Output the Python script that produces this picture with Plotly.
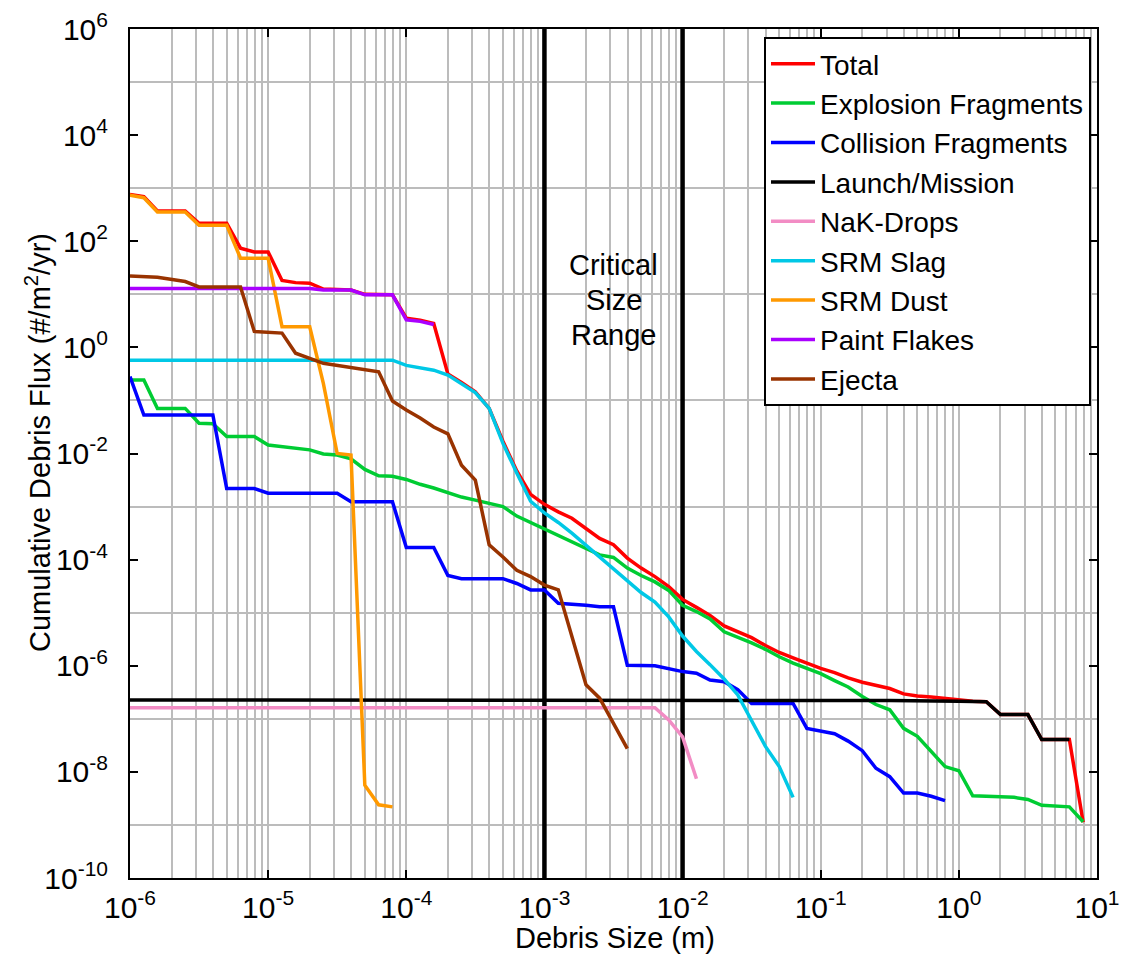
import plotly.graph_objects as go

# ---------------- data (debris size in m, cumulative flux in #/m^2/yr) ----------------
total_size = [1.0e-6, 1.26e-6, 1.58e-6, 2.51e-6, 3.16e-6, 5.01e-6, 6.31e-6, 7.94e-6, 1.0e-5,
              1.26e-5, 1.58e-5, 2.0e-5, 2.51e-5, 3.98e-5, 5.01e-5, 7.94e-5, 1.0e-4, 1.26e-4,
              1.58e-4, 2.0e-4, 2.51e-4, 3.16e-4, 3.98e-4, 5.01e-4, 6.31e-4, 7.94e-4, 1.0e-3,
              1.26e-3, 1.58e-3, 2.0e-3, 2.51e-3, 3.16e-3, 3.98e-3, 5.01e-3, 6.31e-3, 7.94e-3,
              1.0e-2, 1.26e-2, 1.58e-2, 2.0e-2, 2.51e-2, 3.16e-2, 3.98e-2, 5.01e-2, 6.31e-2,
              7.94e-2, 0.1, 0.126, 0.158, 0.2, 0.251, 0.316, 0.398, 0.501, 0.631, 0.794, 1.0,
              1.26, 1.58, 2.0, 3.16, 3.98, 6.31, 7.94]
total_flux = [760, 690, 372, 372, 219, 219, 74, 63, 63,
              18.2, 16.6, 16.2, 12.6, 12.0, 10.0, 9.8, 3.55, 3.24,
              2.82, 0.316, 0.219, 0.145, 0.0708, 0.017, 4.68e-3, 1.70e-3, 1.10e-3,
              7.94e-4, 6.03e-4, 3.80e-4, 2.51e-4, 1.91e-4, 1.07e-4, 6.92e-5, 4.79e-5, 3.09e-5,
              1.78e-5, 1.26e-5, 8.91e-6, 5.62e-6, 4.37e-6, 3.39e-6, 2.40e-6, 1.78e-6, 1.41e-6,
              1.12e-6, 8.91e-7, 7.41e-7, 5.89e-7, 4.90e-7, 4.27e-7, 3.72e-7, 2.95e-7, 2.69e-7,
              2.57e-7, 2.40e-7, 2.24e-7, 2.14e-7, 2.09e-7, 1.20e-7, 1.20e-7, 4.07e-8, 4.07e-8,
              1.12e-9]

explosion_size = [1.0e-6, 1.26e-6, 1.58e-6, 2.51e-6, 3.16e-6, 3.98e-6, 5.01e-6, 7.94e-6, 1.0e-5,
                  1.58e-5, 2.0e-5, 2.51e-5, 3.16e-5, 3.98e-5, 5.01e-5, 6.31e-5, 7.94e-5, 1.0e-4,
                  1.26e-4, 1.58e-4, 2.0e-4, 2.51e-4, 3.16e-4, 3.98e-4, 5.01e-4, 6.31e-4, 7.94e-4,
                  1.0e-3, 1.26e-3, 1.58e-3, 2.0e-3, 2.51e-3, 3.16e-3, 3.98e-3, 5.01e-3, 6.31e-3,
                  7.94e-3, 1.0e-2, 1.26e-2, 1.58e-2, 2.0e-2, 2.51e-2, 3.16e-2, 3.98e-2, 5.01e-2,
                  6.31e-2, 7.94e-2, 0.1, 0.126, 0.158, 0.2, 0.251, 0.316, 0.398, 0.501, 0.631,
                  0.794, 1.0, 1.26, 2.0, 2.51, 3.16, 3.98, 6.31, 7.94]
explosion_flux = [0.243, 0.243, 0.0708, 0.0708, 0.0372, 0.0363, 0.0209, 0.0209, 0.0145,
                  0.0126, 0.0117, 9.77e-3, 9.33e-3, 7.94e-3, 5.01e-3, 3.80e-3, 3.72e-3, 3.24e-3,
                  2.63e-3, 2.24e-3, 1.82e-3, 1.51e-3, 1.32e-3, 1.15e-3, 1.0e-3, 6.61e-4, 5.01e-4,
                  3.80e-4, 2.82e-4, 2.14e-4, 1.58e-4, 1.23e-4, 1.10e-4, 6.92e-5, 5.01e-5, 3.80e-5,
                  2.63e-5, 1.38e-5, 1.05e-5, 7.59e-6, 4.37e-6, 3.47e-6, 2.69e-6, 2.04e-6, 1.48e-6,
                  1.12e-6, 8.91e-7, 7.08e-7, 5.25e-7, 3.98e-7, 2.63e-7, 1.86e-7, 1.48e-7, 6.61e-8,
                  4.68e-8, 2.40e-8, 1.26e-8, 1.05e-8, 3.55e-9, 3.39e-9, 3.31e-9, 3.02e-9, 2.34e-9,
                  2.19e-9, 1.15e-9]

collision_size = [1.0e-6, 1.26e-6, 3.98e-6, 5.01e-6, 7.94e-6, 1.0e-5, 3.16e-5, 3.98e-5, 7.94e-5,
                  1.0e-4, 1.58e-4, 2.0e-4, 2.51e-4, 5.01e-4, 6.31e-4, 7.94e-4, 1.0e-3, 1.26e-3,
                  2.0e-3, 2.51e-3, 3.16e-3, 3.98e-3, 6.31e-3, 7.94e-3, 1.0e-2, 1.26e-2, 1.58e-2,
                  2.0e-2, 2.51e-2, 3.16e-2, 6.31e-2, 7.94e-2, 0.1, 0.126, 0.158, 0.2, 0.251,
                  0.316, 0.398, 0.501, 0.631, 0.794]
collision_flux = [0.282, 0.0531, 0.0531, 2.19e-3, 2.19e-3, 1.78e-3, 1.78e-3, 1.23e-3, 1.23e-3,
                  1.70e-4, 1.70e-4, 5.01e-5, 4.37e-5, 4.37e-5, 3.55e-5, 2.69e-5, 2.69e-5, 1.51e-5,
                  1.38e-5, 1.29e-5, 1.29e-5, 1.02e-6, 1.0e-6, 8.91e-7, 7.76e-7, 7.24e-7, 5.37e-7,
                  5.01e-7, 3.55e-7, 1.95e-7, 1.95e-7, 6.61e-8, 5.89e-8, 5.25e-8, 3.80e-8, 2.51e-8,
                  1.17e-8, 8.13e-9, 3.98e-9, 3.98e-9, 3.47e-9, 2.88e-9]

launch_size = [1.0e-6, 0.1, 0.316, 1.0, 1.58, 2.0, 3.16, 3.98, 6.31]
launch_flux = [2.26e-7, 2.26e-7, 2.21e-7, 2.14e-7, 2.09e-7, 1.20e-7, 1.20e-7, 4.07e-8, 4.07e-8]

nak_size = [1.0e-6, 6.31e-3, 7.94e-3, 1.0e-2, 1.26e-2]
nak_flux = [1.62e-7, 1.62e-7, 9.55e-8, 4.57e-8, 7.41e-9]

slag_size = [1.0e-6, 7.94e-5, 1.0e-4, 1.26e-4, 1.58e-4, 2.0e-4, 2.51e-4, 3.16e-4, 3.98e-4,
             5.01e-4, 6.31e-4, 7.94e-4, 1.0e-3, 1.26e-3, 1.58e-3, 2.0e-3, 2.51e-3, 3.16e-3,
             3.98e-3, 5.01e-3, 6.31e-3, 7.94e-3, 1.0e-2, 1.26e-2, 1.58e-2, 2.0e-2, 2.51e-2,
             3.16e-2, 3.98e-2, 5.01e-2, 6.31e-2]
slag_flux = [0.575, 0.575, 0.457, 0.417, 0.372, 0.302, 0.209, 0.141, 0.0708,
             0.0155, 4.27e-3, 1.26e-3, 7.59e-4, 5.01e-4, 3.16e-4, 1.86e-4, 1.12e-4, 6.76e-5,
             3.98e-5, 2.40e-5, 1.58e-5, 8.32e-6, 3.63e-6, 1.86e-6, 1.05e-6, 5.62e-7, 2.82e-7,
             8.91e-8, 3.02e-8, 1.26e-8, 3.31e-9]

dust_size = [1.0e-6, 1.26e-6, 1.58e-6, 2.51e-6, 3.16e-6, 5.01e-6, 6.31e-6, 1.0e-5, 1.26e-5,
             2.0e-5, 2.51e-5, 3.16e-5, 3.98e-5, 5.01e-5, 6.31e-5, 7.94e-5]
dust_flux = [741, 661, 355, 355, 200, 200, 47.9, 47.9, 2.45,
             2.45, 0.209, 0.0100, 9.33e-3, 5.62e-9, 2.40e-9, 2.19e-9]

paint_size = [1.0e-6, 2.0e-5, 2.51e-5, 3.98e-5, 5.01e-5, 7.94e-5, 1.0e-4, 1.26e-4, 1.58e-4]
paint_flux = [12.9, 12.9, 12.0, 12.0, 9.77, 9.77, 3.31, 3.09, 2.69]

ejecta_size = [1.0e-6, 1.58e-6, 2.51e-6, 3.16e-6, 6.31e-6, 7.94e-6, 1.26e-5, 1.58e-5, 2.51e-5,
               3.98e-5, 6.31e-5, 7.94e-5, 1.0e-4, 1.26e-4, 1.58e-4, 2.0e-4, 2.51e-4, 3.16e-4,
               3.98e-4, 5.01e-4, 6.31e-4, 7.94e-4, 1.0e-3, 1.26e-3, 1.58e-3, 2.0e-3, 2.51e-3,
               3.98e-3]
ejecta_flux = [22.1, 20.9, 17.4, 13.8, 13.8, 2.0, 1.86, 0.776, 0.501,
               0.417, 0.347, 0.0977, 0.0661, 0.0468, 0.0316, 0.0234, 6.03e-3, 3.16e-3,
               1.91e-4, 1.12e-4, 6.31e-5, 4.79e-5, 3.31e-5, 2.69e-5, 3.55e-6, 4.37e-7, 2.45e-7,
               2.75e-8]

series_names = ["Total", "Explosion Fragments", "Collision Fragments", "Launch/Mission",
                "NaK-Drops", "SRM Slag", "SRM Dust", "Paint Flakes", "Ejecta"]
series_colors = ["#ff0000", "#00cc33", "#0000ff", "#000000", "#f28cc4",
                 "#00c8e6", "#ff9900", "#aa00ff", "#993300"]
series_data = [(total_size, total_flux), (explosion_size, explosion_flux),
               (collision_size, collision_flux), (launch_size, launch_flux),
               (nak_size, nak_flux), (slag_size, slag_flux), (dust_size, dust_flux),
               (paint_size, paint_flux), (ejecta_size, ejecta_flux)]

critical_bounds = [1e-3, 1e-2]
critical_label = ["Critical", "Size", "Range"]
y_range_vals = [1e-10, 1e6]

x_tick_vals = [1e-6, 1e-5, 1e-4, 1e-3, 1e-2, 1e-1, 1e0, 1e1]
x_tick_text = ["10<sup>-6</sup>", "10<sup>-5</sup>", "10<sup>-4</sup>", "10<sup>-3</sup>",
               "10<sup>-2</sup>", "10<sup>-1</sup>", "10<sup>0</sup>", "10<sup>1</sup>"]
y_tick_vals = [1e-10, 1e-8, 1e-6, 1e-4, 1e-2, 1e0, 1e2, 1e4, 1e6]
y_tick_text = ["10<sup>-10</sup>", "10<sup>-8</sup>", "10<sup>-6</sup>", "10<sup>-4</sup>",
               "10<sup>-2</sup>", "10<sup>0</sup>", "10<sup>2</sup>", "10<sup>4</sup>",
               "10<sup>6</sup>"]
y_grid_vals = [1e-9, 1e-7, 1e-5, 1e-3, 1e-1, 1e1, 1e3, 1e5]

# ---------------- figure ----------------
FONT = "Liberation Sans, Arial, sans-serif"
GRID = "#bcbcbc"

fig = go.Figure()

for xb in critical_bounds:
    fig.add_trace(go.Scatter(x=[xb, xb], y=y_range_vals, mode="lines",
                             line=dict(color="black", width=4.5),
                             showlegend=False, hoverinfo="skip"))

for name, color, (xs, ys) in zip(series_names, series_colors, series_data):
    fig.add_trace(go.Scatter(x=xs, y=ys, mode="lines", name=name,
                             line=dict(color=color, width=3.5)))

x_minor = [m * 10.0 ** k for k in range(-6, 1) for m in range(2, 10)]

crit_y = [0.722, 0.6808, 0.6396]
annotations = [dict(text=t, xref="paper", yref="paper", x=0.5005, y=yy,
                    xanchor="center", yanchor="middle", showarrow=False,
                    font=dict(family=FONT, size=29, color="black"))
               for t, yy in zip(critical_label, crit_y)]
annotations += [
    dict(text="Debris Size (m)", xref="paper", yref="paper",
         x=0.5016, y=-0.0707, xanchor="center", yanchor="middle", showarrow=False,
         font=dict(family=FONT, size=29, color="black")),
    dict(text="Cumulative Debris Flux (#/m<sup>2</sup>/yr)", xref="paper", yref="paper",
         x=-0.0951, y=0.5124, xanchor="center", yanchor="middle", showarrow=False,
         textangle=-90, font=dict(family=FONT, size=29, color="black")),
]

fig.update_layout(
    width=1122, height=947,
    margin=dict(l=122, r=33, t=21, b=77, autoexpand=False),
    paper_bgcolor="white", plot_bgcolor="white",
    font=dict(family=FONT, size=30, color="black"),
    showlegend=True,
    legend=dict(x=0.9938, xanchor="right", y=0.9906, yanchor="top",
                bgcolor="white", bordercolor="black", borderwidth=2,
                font=dict(family=FONT, size=28, color="black"),
                itemwidth=44, tracegroupgap=0),
    xaxis=dict(type="log", range=[-6, 1], tickmode="array",
               tickvals=x_tick_vals, ticktext=x_tick_text,
               showgrid=True, gridcolor=GRID, gridwidth=1.5,
               showline=True, linecolor="black", linewidth=2, mirror="ticks",
               ticks="inside", ticklen=8, tickwidth=2, tickcolor="black",
               tickfont=dict(family=FONT, size=30), ticklabelstandoff=2,
               ticklabeloverflow="allow", automargin=False,
               minor=dict(tickvals=x_minor, showgrid=True, gridcolor=GRID,
                          gridwidth=1.5, ticks=""),
               zeroline=False),
    yaxis=dict(type="log", range=[-10, 6], tickmode="array",
               tickvals=y_tick_vals, ticktext=y_tick_text,
               showgrid=False,
               showline=True, linecolor="black", linewidth=2, mirror="ticks",
               ticks="inside", ticklen=8, tickwidth=2, tickcolor="black",
               tickfont=dict(family=FONT, size=30), ticklabelstandoff=14,
               ticklabeloverflow="allow", automargin=False,
               minor=dict(tickvals=y_grid_vals, showgrid=True, gridcolor=GRID,
                          gridwidth=1.5, ticks=""),
               zeroline=False),
    annotations=annotations,
)

fig.write_html("out.html")
